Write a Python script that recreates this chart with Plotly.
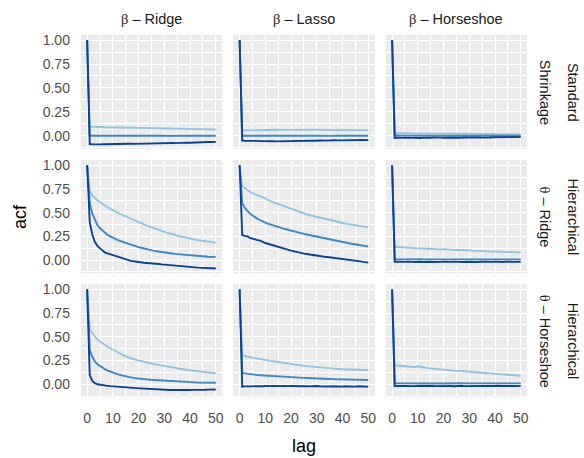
import plotly.graph_objects as go

# ---------------- data ----------------
LAGS = list(range(51))
COL_LABELS = ["Ridge", "Lasso", "Horseshoe"]
ROW_LABELS = [("Standard", "Shrinkage"), ("Hierarchical", "\u03b8 \u2013 Ridge"), ("Hierarchical", "\u03b8 \u2013 Horseshoe")]
Y_TICKS = [0.0, 0.25, 0.5, 0.75, 1.0]
X_TICKS = [0, 10, 20, 30, 40, 50]

# Row 1: Standard Shrinkage
std_ridge_light = [1.0,
 .094,.093,.094,.092,.091,.092,.090,.090,.091,.089,
 .088,.089,.087,.086,.087,.085,.085,.086,.084,.083,
 .083,.082,.083,.081,.080,.081,.079,.078,.079,.077,
 .077,.076,.076,.075,.074,.075,.073,.072,.073,.071,
 .071,.070,.070,.069,.068,.069,.067,.067,.066,.066]
std_ridge_mid = [1.0,
 .002,.001,.000,.001,.000,-.001,.000,.001,.000,-.001,
 .000,.001,.000,.000,-.001,.000,.001,.000,.000,-.001,
 .000,.000,.001,.000,-.001,.000,.000,.001,.000,.000,
 -.001,.000,.000,.001,.000,.000,-.001,.000,.000,.001,
 .000,.000,-.001,.000,.000,.000,.001,.000,.000,.000]
std_ridge_dark = [1.0,
 -.087,-.088,-.086,-.087,-.089,-.088,-.087,-.086,-.088,-.087,
 -.086,-.085,-.087,-.086,-.084,-.085,-.083,-.084,-.083,-.082,
 -.083,-.081,-.080,-.082,-.081,-.079,-.080,-.078,-.079,-.077,
 -.076,-.077,-.075,-.076,-.074,-.073,-.074,-.072,-.071,-.072,
 -.070,-.069,-.070,-.068,-.066,-.067,-.065,-.064,-.065,-.063]

std_lasso_light = [1.0,
 .058,.057,.058,.059,.058,.059,.060,.059,.060,.061,
 .060,.061,.062,.061,.062,.063,.062,.063,.064,.063,
 .064,.065,.064,.065,.066,.065,.064,.065,.064,.063,
 .064,.063,.062,.063,.062,.061,.062,.061,.060,.061,
 .060,.061,.060,.059,.060,.061,.060,.059,.060,.060]
std_lasso_mid = [1.0,
 .001,.000,.001,.000,-.001,.000,.001,.000,.000,.001,
 .000,-.001,.000,.001,.000,.000,-.001,.000,.001,.000,
 .000,.001,.000,-.001,.000,.000,.001,.000,.000,-.001,
 .000,.000,.001,.000,.000,-.001,.000,.001,.000,.000,
 .001,.000,.000,-.001,.000,.000,.001,.000,.000,.000]
std_lasso_dark = [1.0,
 -.050,-.052,-.051,-.053,-.052,-.054,-.053,-.055,-.054,-.056,
 -.055,-.057,-.056,-.058,-.057,-.056,-.058,-.057,-.055,-.056,
 -.054,-.055,-.053,-.054,-.052,-.053,-.051,-.052,-.050,-.051,
 -.050,-.049,-.050,-.048,-.049,-.048,-.047,-.048,-.047,-.046,
 -.047,-.046,-.045,-.046,-.045,-.044,-.045,-.044,-.045,-.044]

std_horse_light = [1.0,
 .028,.027,.028,.026,.027,.026,.027,.025,.026,.025,
 .026,.024,.025,.024,.025,.023,.024,.023,.024,.022,
 .023,.022,.023,.021,.022,.021,.022,.020,.021,.020,
 .021,.019,.020,.019,.020,.018,.019,.018,.019,.017,
 .018,.017,.018,.016,.017,.016,.017,.015,.016,.015]
std_horse_mid = [1.0,
 .004,.003,.003,.002,.003,.002,.002,.003,.002,.002,
 .003,.002,.001,.002,.002,.001,.002,.002,.001,.002,
 .001,.002,.001,.001,.002,.001,.001,.002,.001,.001,
 .002,.001,.001,.000,.001,.001,.000,.001,.001,.000,
 .001,.000,.001,.001,.000,.001,.000,.000,.001,.000]
std_horse_dark = [1.0,
 -.022,-.020,-.023,-.021,-.019,-.022,-.024,-.021,-.020,-.023,
 -.022,-.019,-.021,-.023,-.020,-.018,-.021,-.022,-.019,-.020,
 -.018,-.021,-.019,-.017,-.020,-.018,-.016,-.019,-.017,-.018,
 -.016,-.018,-.015,-.017,-.019,-.016,-.014,-.017,-.015,-.016,
 -.014,-.016,-.013,-.015,-.017,-.014,-.012,-.015,-.013,-.014]

# Row 2: Hierarchical theta - Ridge
hr_ridge_light = [1.0,
 .73,.68,.65,.63,.61,.59,.57,.555,.54,.525,
 .51,.495,.48,.47,.46,.445,.435,.425,.41,.40,
 .39,.375,.365,.355,.345,.335,.325,.315,.305,.295,
 .29,.28,.275,.265,.255,.25,.245,.24,.24,.23,
 .222,.215,.21,.205,.20,.197,.193,.19,.187,.185]
hr_ridge_mid = [1.0,
 .61,.49,.42,.37,.335,.31,.285,.265,.25,.235,
 .22,.21,.20,.19,.18,.17,.16,.152,.145,.137,
 .13,.122,.115,.11,.103,.098,.093,.088,.084,.08,
 .077,.073,.07,.066,.063,.06,.057,.054,.052,.05,
 .048,.046,.044,.042,.04,.038,.036,.034,.033,.032]
hr_ridge_dark = [1.0,
 .40,.27,.19,.15,.12,.10,.08,.068,.062,.052,
 .045,.035,.025,.015,.008,.0,-.008,-.012,-.018,-.022,
 -.025,-.028,-.03,-.031,-.033,-.035,-.038,-.041,-.045,-.048,
 -.051,-.053,-.056,-.059,-.062,-.065,-.067,-.069,-.071,-.073,
 -.075,-.077,-.079,-.080,-.082,-.083,-.085,-.086,-.087,-.088]

hr_lasso_light = [1.0,
 .78,.76,.735,.72,.705,.695,.685,.67,.66,.65,
 .635,.62,.61,.60,.59,.575,.565,.555,.545,.535,
 .525,.515,.505,.50,.49,.483,.475,.468,.462,.455,
 .45,.443,.436,.43,.423,.417,.41,.404,.398,.392,
 .386,.38,.375,.37,.365,.36,.356,.352,.348,.345]
hr_lasso_mid = [1.0,
 .60,.55,.515,.49,.47,.45,.435,.42,.405,.395,
 .385,.375,.365,.355,.347,.34,.332,.325,.317,.31,
 .302,.295,.288,.282,.276,.27,.264,.258,.252,.246,
 .24,.235,.23,.224,.218,.212,.207,.201,.196,.19,
 .185,.18,.175,.17,.165,.16,.155,.151,.147,.143]
hr_lasso_dark = [1.0,
 .265,.255,.25,.235,.225,.222,.21,.205,.19,.18,
 .172,.165,.155,.148,.14,.13,.122,.115,.108,.10,
 .092,.088,.08,.072,.068,.065,.06,.055,.05,.045,
 .043,.04,.036,.033,.03,.026,.022,.018,.016,.012,
 .008,.005,.002,-.003,-.006,-.01,-.013,-.018,-.022,-.026]

hr_horse_light = [1.0,
 .14,.138,.135,.132,.13,.128,.13,.127,.125,.127,
 .124,.122,.12,.122,.118,.117,.119,.115,.113,.115,
 .112,.11,.108,.11,.106,.105,.107,.103,.101,.103,
 .10,.098,.097,.099,.095,.093,.095,.092,.09,.092,
 .089,.087,.088,.086,.084,.085,.082,.081,.083,.08]
hr_horse_mid = [1.0,
 .009,.008,.009,.008,.008,.009,.008,.007,.008,.008,
 .009,.008,.008,.007,.008,.009,.008,.008,.007,.008,
 .008,.009,.008,.008,.007,.008,.008,.009,.008,.007,
 .008,.008,.007,.008,.009,.008,.008,.007,.008,.008,
 .009,.008,.007,.008,.008,.009,.008,.008,.007,.008]
hr_horse_dark = [1.0,
 -.018,-.017,-.019,-.016,-.018,-.017,-.015,-.018,-.019,-.016,
 -.017,-.019,-.016,-.018,-.017,-.020,-.017,-.016,-.018,-.017,
 -.019,-.016,-.018,-.017,-.015,-.018,-.019,-.017,-.016,-.018,
 -.017,-.019,-.016,-.018,-.017,-.016,-.019,-.017,-.018,-.016,
 -.018,-.017,-.019,-.016,-.018,-.017,-.016,-.018,-.017,-.018]

# Row 3: Hierarchical theta - Horseshoe
hh_ridge_light = [1.0,
 .58,.54,.50,.47,.45,.43,.41,.395,.38,.365,
 .35,.34,.325,.31,.295,.285,.275,.268,.262,.25,
 .245,.237,.23,.225,.218,.213,.207,.202,.196,.19,
 .186,.181,.177,.172,.168,.163,.159,.155,.151,.148,
 .145,.141,.138,.135,.132,.128,.125,.122,.118,.115]
hh_ridge_mid = [1.0,
 .36,.29,.24,.21,.19,.172,.158,.145,.133,.122,
 .112,.104,.096,.089,.083,.078,.073,.068,.064,.06,
 .057,.054,.051,.049,.047,.045,.043,.041,.039,.037,
 .035,.034,.032,.031,.029,.028,.026,.025,.023,.022,
 .021,.02,.019,.018,.018,.017,.017,.018,.017,.017]
hh_ridge_dark = [1.0,
 .097,.035,.012,.0,-.006,-.01,-.013,-.016,-.019,-.022,
 -.025,-.027,-.029,-.031,-.033,-.035,-.037,-.038,-.04,-.042,
 -.044,-.046,-.048,-.051,-.053,-.054,-.055,-.056,-.057,-.058,
 -.059,-.06,-.06,-.061,-.061,-.062,-.061,-.06,-.061,-.06,
 -.059,-.06,-.058,-.059,-.057,-.058,-.056,-.057,-.055,-.055]

hh_lasso_light = [1.0,
 .305,.298,.29,.285,.28,.276,.27,.266,.262,.255,
 .25,.247,.243,.24,.236,.232,.228,.224,.22,.215,
 .21,.205,.202,.199,.195,.192,.189,.186,.183,.18,
 .178,.175,.173,.171,.168,.166,.164,.162,.16,.158,
 .157,.156,.155,.154,.153,.152,.151,.151,.15,.15]
hh_lasso_mid = [1.0,
 .12,.115,.11,.105,.102,.10,.097,.095,.093,.091,
 .089,.087,.086,.084,.083,.081,.08,.078,.077,.075,
 .073,.072,.071,.069,.068,.067,.065,.064,.063,.062,
 .06,.059,.058,.057,.056,.055,.054,.053,.052,.051,
 .05,.05,.049,.048,.048,.047,.047,.046,.046,.045]
hh_lasso_dark = [1.0,
 -.025,-.022,-.024,-.020,-.022,-.019,-.021,-.023,-.020,-.018,
 -.021,-.019,-.017,-.020,-.022,-.019,-.018,-.021,-.019,-.017,
 -.020,-.018,-.021,-.019,-.017,-.020,-.022,-.019,-.021,-.018,
 -.020,-.022,-.019,-.021,-.023,-.020,-.022,-.019,-.021,-.024,
 -.021,-.023,-.020,-.022,-.024,-.021,-.023,-.025,-.022,-.024]

hh_horse_light = [1.0,
 .20,.198,.195,.19,.192,.188,.185,.182,.184,.19,
 .185,.178,.172,.17,.168,.165,.16,.157,.155,.153,
 .152,.149,.146,.145,.142,.139,.14,.137,.134,.132,
 .13,.128,.126,.124,.121,.119,.117,.115,.113,.111,
 .109,.107,.105,.103,.101,.099,.097,.095,.093,.09]
hh_horse_mid = [1.0,
 .011,.010,.011,.010,.009,.010,.011,.010,.010,.009,
 .010,.011,.010,.009,.010,.010,.011,.010,.009,.010,
 .010,.011,.010,.010,.009,.010,.011,.010,.010,.009,
 .010,.010,.011,.010,.009,.010,.010,.011,.010,.010,
 .009,.010,.010,.011,.010,.009,.010,.010,.011,.010]
hh_horse_dark = [1.0,
 -.018,-.017,-.019,-.018,-.016,-.018,-.019,-.017,-.018,-.020,
 -.017,-.018,-.016,-.019,-.018,-.017,-.019,-.018,-.016,-.018,
 -.019,-.017,-.018,-.020,-.017,-.018,-.016,-.019,-.018,-.017,
 -.019,-.018,-.016,-.018,-.019,-.017,-.018,-.020,-.017,-.018,
 -.016,-.019,-.018,-.017,-.019,-.018,-.016,-.018,-.019,-.017]

PANELS = [
    [(std_ridge_light, std_ridge_mid, std_ridge_dark),
     (std_lasso_light, std_lasso_mid, std_lasso_dark),
     (std_horse_light, std_horse_mid, std_horse_dark)],
    [(hr_ridge_light, hr_ridge_mid, hr_ridge_dark),
     (hr_lasso_light, hr_lasso_mid, hr_lasso_dark),
     (hr_horse_light, hr_horse_mid, hr_horse_dark)],
    [(hh_ridge_light, hh_ridge_mid, hh_ridge_dark),
     (hh_lasso_light, hh_lasso_mid, hh_lasso_dark),
     (hh_horse_light, hh_horse_mid, hh_horse_dark)],
]

# ---------------- styling / layout ----------------
W, H = 584, 458
COLORS = ["#93C4E2", "#3A88C6", "#0A4394"]
COL_PX = [(81, 223), (234, 376), (387, 529)]
ROW_PX = [(32, 147), (158, 272), (283, 397)]
FONT = "Liberation Sans, Arial, sans-serif"

fig = go.Figure()
layout = dict(
    width=W, height=H, margin=dict(l=0, r=0, t=0, b=0),
    paper_bgcolor="white", plot_bgcolor="#EBEBEB", showlegend=False,
    font=dict(family=FONT, color="#4D4D4D"),
)

for r in range(3):
    for c in range(3):
        i = r * 3 + c + 1
        xa = "x" if i == 1 else f"x{i}"
        ya = "y" if i == 1 else f"y{i}"
        for k, series in enumerate(PANELS[r][c]):
            fig.add_trace(go.Scatter(
                x=LAGS[:len(series)], y=series, mode="lines",
                line=dict(color=COLORS[k], width=1.9),
                xaxis=xa, yaxis=ya, hoverinfo="skip"))
        x0, x1 = COL_PX[c]
        y0, y1 = ROW_PX[r]
        layout["xaxis" if i == 1 else f"xaxis{i}"] = dict(
            domain=[x0 / W, x1 / W], anchor=ya, range=[-2.5, 52.5],
            tickvals=X_TICKS, showticklabels=(r == 2),
            ticks="outside", ticklen=8, tickcolor="rgba(0,0,0,0)",
            tickfont=dict(size=14, color="#4D4D4D", family=FONT),
            showgrid=True, gridcolor="white", gridwidth=1.1, zeroline=False,
            showline=False,
            minor=dict(tickvals=[5, 15, 25, 35, 45], showgrid=True,
                       gridcolor="white", gridwidth=0.5),
        )
        layout["yaxis" if i == 1 else f"yaxis{i}"] = dict(
            domain=[1 - y1 / H, 1 - y0 / H], anchor=xa, range=[-0.138, 1.055],
            tickvals=Y_TICKS, tickformat=".2f", showticklabels=(c == 0),
            ticks="outside", ticklen=7, tickcolor="rgba(0,0,0,0)",
            tickfont=dict(size=14, color="#4D4D4D", family=FONT),
            showgrid=True, gridcolor="white", gridwidth=1.1, zeroline=False,
            showline=False,
            minor=dict(tickvals=[-0.125, 0.125, 0.375, 0.625, 0.875], showgrid=True,
                       gridcolor="white", gridwidth=0.5),
        )

annotations = []
beta = "<span style='font-family:Liberation Serif'>\u03b2</span>"
for c, lab in enumerate(COL_LABELS):
    x0, x1 = COL_PX[c]
    annotations.append(dict(
        x=(x0 + x1) / 2 / W, y=1 - 16 / H, xref="paper", yref="paper",
        text=f"{beta} \u2013 {lab}", showarrow=False, xanchor="center", yanchor="middle",
        font=dict(size=14.5, color="#1A1A1A", family=FONT)))
for r, (l1, l2) in enumerate(ROW_LABELS):
    y0, y1 = ROW_PX[r]
    yc = 1 - (y0 + y1) / 2 / H
    for txt, xp in ((l1, 575), (l2, 547)):
        t = txt.replace("\u03b8", "<span style='font-family:Liberation Serif'>\u03b8</span>")
        annotations.append(dict(
            x=xp / W, y=yc, xref="paper", yref="paper", text=t, textangle=90,
            showarrow=False, xanchor="center", yanchor="middle",
            font=dict(size=14.5, color="#1A1A1A", family=FONT)))
annotations.append(dict(x=20 / W, y=1 - 214.5 / H, xref="paper", yref="paper",
                        text="acf", textangle=-90, showarrow=False,
                        xanchor="center", yanchor="middle",
                        font=dict(size=18, color="#000000", family=FONT)))
annotations.append(dict(x=305 / W, y=1 - 446 / H, xref="paper", yref="paper",
                        text="lag", showarrow=False, xanchor="center", yanchor="middle",
                        font=dict(size=18, color="#000000", family=FONT)))
layout["annotations"] = annotations

fig.update_layout(**layout)
fig.write_html("out.html")
